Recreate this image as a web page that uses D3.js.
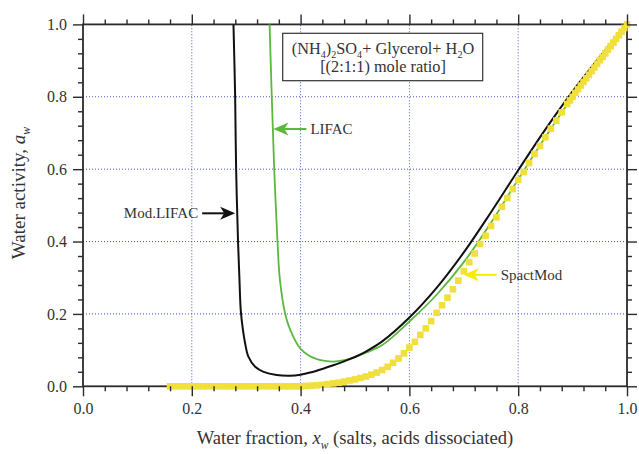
<!DOCTYPE html>
<html>
<head>
<meta charset="utf-8">
<script src="https://cdn.jsdelivr.net/npm/d3@7"></script>
<style>
  body { margin: 0; background: #fff; }
  svg { display: block; }
</style>
</head>
<body>
<script>
// Water activity of (NH4)2SO4 + Glycerol + H2O, three model curves

// Mod.LIFAC (black line)
const modLifacX = [0.2766, 0.2797, 0.2815, 0.2850, 0.2875, 0.2900, 0.2940, 0.2980, 0.3040, 0.3165,
                   0.3320, 0.3560, 0.3800, 0.4000, 0.4200, 0.4400, 0.4600, 0.4800, 0.5000, 0.5200,
                   0.5500, 0.6000, 0.6500, 0.7000, 0.7500, 0.8000, 0.8500, 0.9000, 0.9500, 1.0000];
const modLifacAw = [1.000, 0.800, 0.600, 0.400, 0.300, 0.210, 0.156, 0.119, 0.082, 0.054,
                    0.040, 0.031, 0.029, 0.032, 0.039, 0.048, 0.058, 0.069, 0.081, 0.096,
                    0.124, 0.190, 0.272, 0.370, 0.481, 0.597, 0.710, 0.815, 0.910, 1.000];

// LIFAC (green line)
const lifacX = [0.3430, 0.3470, 0.3515, 0.3575, 0.3620, 0.3717, 0.3810, 0.3990, 0.4150, 0.4300,
                0.4450, 0.4600, 0.4800, 0.5000, 0.5200, 0.5500, 0.6000, 0.6500, 0.7000, 0.7500,
                0.8000, 0.8500, 0.9000, 0.9500, 1.0000];
const lifacAw = [1.000, 0.800, 0.600, 0.400, 0.294, 0.200, 0.156, 0.105, 0.085, 0.075,
                 0.070, 0.068, 0.072, 0.081, 0.093, 0.114, 0.179, 0.253, 0.343, 0.452,
                 0.572, 0.689, 0.800, 0.902, 1.000];

// SpactMod (yellow squares)
const spactX = [0.16, 0.17, 0.18, 0.19, 0.20, 0.21, 0.22, 0.23, 0.24, 0.25, 0.26, 0.27, 0.28, 0.29,
                0.30, 0.31, 0.32, 0.33, 0.34, 0.35, 0.36, 0.37, 0.38, 0.39, 0.40, 0.41, 0.42, 0.43,
                0.44, 0.45, 0.46, 0.47, 0.48, 0.49, 0.50, 0.51, 0.52, 0.53, 0.54, 0.55, 0.56, 0.57,
                0.58, 0.59, 0.60, 0.61, 0.62, 0.63, 0.64, 0.65, 0.66, 0.67, 0.68, 0.69, 0.70, 0.71,
                0.72, 0.73, 0.74, 0.75, 0.76, 0.77, 0.78, 0.79, 0.80, 0.81, 0.82, 0.83, 0.84, 0.85,
                0.86, 0.87, 0.88, 0.89, 0.895, 0.900, 0.905, 0.910, 0.915, 0.920, 0.925, 0.930,
                0.935, 0.940, 0.945, 0.950, 0.955, 0.960, 0.965, 0.970, 0.975, 0.980, 0.985, 0.990,
                0.995, 1.000];
const spactAw = [0, 0, 0, 0, 0, 0, 0, 0, 0, 0, 0, 0, 0, 0,
                 0, 0, 0, 0, 0, 0, 0, 0, 0, 0, 0, 0.001, 0.002, 0.003,
                 0.004, 0.006, 0.008, 0.010, 0.013, 0.016, 0.019, 0.023, 0.027, 0.032, 0.038, 0.045, 0.054, 0.065,
                 0.077, 0.091, 0.107, 0.123, 0.142, 0.160, 0.180, 0.203, 0.224, 0.245, 0.268, 0.292, 0.318, 0.343,
                 0.367, 0.393, 0.416, 0.443, 0.467, 0.496, 0.520, 0.545, 0.570, 0.592, 0.617, 0.642, 0.664, 0.688,
                 0.712, 0.734, 0.757, 0.780, 0.790, 0.800, 0.811, 0.821, 0.831, 0.841, 0.851, 0.861,
                 0.871, 0.881, 0.891, 0.901, 0.910, 0.920, 0.930, 0.940, 0.950, 0.960, 0.970, 0.980,
                 0.990, 1.000];

// ticks
const majorTicks = [0.0, 0.2, 0.4, 0.6, 0.8, 1.0];
const minorTicks = [0.04, 0.08, 0.12, 0.16, 0.24, 0.28, 0.32, 0.36, 0.44, 0.48, 0.52, 0.56,
                    0.64, 0.68, 0.72, 0.76, 0.84, 0.88, 0.92, 0.96];
const gridTicks = [0.2, 0.4, 0.6, 0.8];

// annotations: label, arrow tip (data coords), arrow direction (+1 = points right)
const annoLabels = ["Mod.LIFAC", "LIFAC", "SpactMod"];
const annoTipX = [0.2797, 0.3500, 0.6998];
const annoTipAw = [0.478, 0.711, 0.308];
const annoDir = [1, -1, -1];

const W = 639, H = 454;
const serif = '"Liberation Serif", "Times New Roman", serif';
const ink = "#2b2b2b";
const colBlack = "#111111", colGreen = "#5cb83c", colYellow = "#f1df3c", colArrowYellow = "#f7ec00";

const svg = d3.select("body").append("svg")
    .attr("width", W)
    .attr("height", H)
    .style("font-family", serif);

const x = d3.scaleLinear().domain([0, 1]).range([83, 627]);
const y = d3.scaleLinear().domain([0, 1]).range([386.3, 24.4]);

// 1) Grid (blue dotted)
const grid = svg.append("g");
grid.selectAll(".gx").data(gridTicks).enter().append("line")
    .attr("x1", d => x(d)).attr("x2", d => x(d))
    .attr("y1", y(0)).attr("y2", y(1));
grid.selectAll(".gy").data(gridTicks).enter().append("line")
    .attr("y1", d => y(d)).attr("y2", d => y(d))
    .attr("x1", x(0)).attr("x2", x(1));
grid.selectAll("line")
    .attr("stroke", "#4358c4")
    .attr("stroke-width", 1)
    .attr("stroke-dasharray", "1,2");

// 2) Frame
svg.append("rect")
    .attr("x", x(0)).attr("y", y(1))
    .attr("width", x(1) - x(0)).attr("height", y(0) - y(1))
    .attr("fill", "none")
    .attr("stroke", ink)
    .attr("stroke-width", 1.8);

// 3) Curves
const line = d3.line()
    .x(d => x(d[0]))
    .y(d => y(d[1]))
    .curve(d3.curveCatmullRom.alpha(0.5));

svg.append("path")
    .datum(lifacX.map((v, i) => [v, lifacAw[i]]))
    .attr("d", line)
    .attr("fill", "none")
    .attr("stroke", colGreen)
    .attr("stroke-width", 1.8);

svg.append("path")
    .datum(modLifacX.map((v, i) => [v, modLifacAw[i]]))
    .attr("d", line)
    .attr("fill", "none")
    .attr("stroke", colBlack)
    .attr("stroke-width", 2);

// 4) SpactMod squares
const sq = 6.6;
svg.append("g").selectAll("rect")
    .data(spactX.map((v, i) => [v, spactAw[i]]))
    .enter().append("rect")
    .attr("x", d => x(d[0]) - sq / 2)
    .attr("y", d => y(d[1]) - sq / 2)
    .attr("width", sq)
    .attr("height", sq)
    .attr("fill", colYellow);

// 5) Axes ticks (outward on all sides)
function styleAxis(g) {
    g.select(".domain").remove();
    g.selectAll(".tick line").attr("stroke", ink).attr("stroke-width", 1.4);
    g.selectAll("text")
        .attr("fill", "#333")
        .style("font-family", serif)
        .style("font-size", "16px");
}
const fmt = d3.format(".1f");
const axes = [
    [d3.axisBottom(x), `translate(0,${y(0)})`, true],
    [d3.axisLeft(y), `translate(${x(0)},0)`, true],
    [d3.axisTop(x), `translate(0,${y(1)})`, false],
    [d3.axisRight(y), `translate(${x(1)},0)`, false]
];
axes.forEach(([ax, tr, labels]) => {
    svg.append("g").attr("transform", tr)
        .call(ax.tickValues(minorTicks).tickSize(5).tickFormat(""))
        .call(styleAxis);
    svg.append("g").attr("transform", tr)
        .call(ax.tickValues(majorTicks).tickSize(10).tickPadding(labels ? 6 : 0)
            .tickFormat(labels ? fmt : ""))
        .call(styleAxis);
});

// 6) Axis titles
function rich(text, parts, size) {
    let wasSub = false;
    parts.forEach(([s, sub, ital]) => {
        const t = text.append("tspan").text(s);
        if (ital) t.style("font-style", "italic");
        if (sub) {
            t.attr("dy", size * 0.28).style("font-size", (size * 0.62) + "px");
        } else if (wasSub) {
            t.attr("dy", -size * 0.28);
        }
        wasSub = !!sub;
    });
}

const xTitle = svg.append("text")
    .attr("x", (x(0) + x(1)) / 2)
    .attr("y", 444)
    .attr("text-anchor", "middle")
    .attr("fill", "#333")
    .style("font-size", "18.6px");
rich(xTitle, [["Water fraction, "], ["x", false, true], ["w", true, true], [" (salts, acids dissociated)"]], 18.6);

const yTitle = svg.append("text")
    .attr("transform", "translate(25,193) rotate(-90)")
    .attr("text-anchor", "middle")
    .attr("fill", "#333")
    .style("font-size", "19px");
rich(yTitle, [["Water activity, "], ["a", false, true], ["w", true, true]], 19);

// 7) Legend box
svg.append("rect")
    .attr("x", 282.7).attr("y", 33.3)
    .attr("width", 200).attr("height", 47.4)
    .attr("fill", "#fff")
    .attr("stroke", "#333")
    .attr("stroke-width", 1.2);

const box1 = svg.append("text")
    .attr("x", 383).attr("y", 53.5)
    .attr("text-anchor", "middle")
    .attr("fill", "#333")
    .style("font-size", "16.3px");
rich(box1, [["(NH"], ["4", true], [")"], ["2", true], ["SO"], ["4", true],
            ["+ Glycerol+ H"], ["2", true], ["O"]], 16.3);

svg.append("text")
    .attr("x", 383).attr("y", 72)
    .attr("text-anchor", "middle")
    .attr("fill", "#333")
    .style("font-size", "16.3px")
    .text("[(2:1:1) mole ratio]");

// 8) Arrow annotations
const annoColors = [colBlack, colGreen, colArrowYellow];
const arrowLen = 33, headLen = 15, headHalf = 6.5, notch = 4;

annoLabels.forEach((label, i) => {
    const tx = x(annoTipX[i]), ty = y(annoTipAw[i]), dir = annoDir[i];
    const tail = tx - dir * arrowLen;
    const g = svg.append("g");
    g.append("line")
        .attr("x1", tail).attr("x2", tx - dir * (headLen - notch))
        .attr("y1", ty).attr("y2", ty)
        .attr("stroke", annoColors[i])
        .attr("stroke-width", 2);
    g.append("path")
        .attr("d", `M${tx},${ty} L${tx - dir * headLen},${ty - headHalf} ` +
                   `L${tx - dir * (headLen - notch)},${ty} L${tx - dir * headLen},${ty + headHalf} Z`)
        .attr("fill", annoColors[i]);
    g.append("text")
        .attr("x", tail - dir * 4)
        .attr("y", ty)
        .attr("dy", "0.33em")
        .attr("text-anchor", dir > 0 ? "end" : "start")
        .attr("fill", "#333")
        .style("font-size", "15px")
        .text(label);
});
</script>
</body>
</html>
